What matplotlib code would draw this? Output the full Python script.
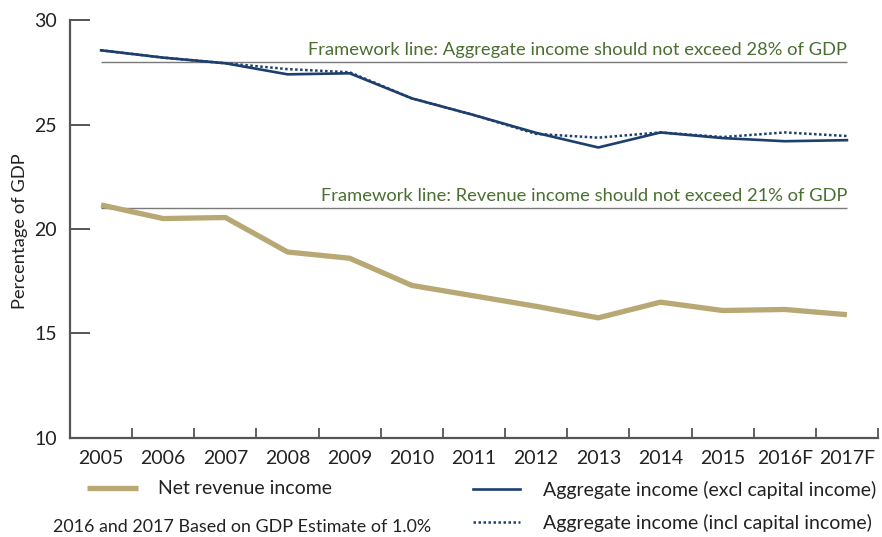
import matplotlib
matplotlib.use("Agg")
import matplotlib.pyplot as plt
import numpy as np

plt.rcParams['font.family'] = ['Lato', 'DejaVu Sans']

# ---- data ----
years = ['2005', '2006', '2007', '2008', '2009', '2010', '2011', '2012',
         '2013', '2014', '2015', '2016F', '2017F']
net_revenue = [21.15, 20.5, 20.55, 18.9, 18.6, 17.3, 16.8, 16.3,
               15.75, 16.5, 16.1, 16.15, 15.9]
agg_excl = [28.55, 28.2, 27.93, 27.4, 27.45, 26.25, 25.45, 24.6,
            23.9, 24.62, 24.35, 24.2, 24.25]
agg_incl = [28.55, 28.2, 27.93, 27.65, 27.5, 26.25, 25.45, 24.55,
            24.37, 24.62, 24.4, 24.62, 24.45]
agg_limit = 28
rev_limit = 21
agg_limit_text = 'Framework line: Aggregate income should not exceed 28% of GDP'
rev_limit_text = 'Framework line: Revenue income should not exceed 21% of GDP'
note_text = '2016 and 2017 Based on GDP Estimate of 1.0%'

# ---- style ----
TAN = '#b8a874'
NAVY = '#1c3f6e'
GREEN = '#4b6e31'
GREY_LINE = '#7a7a7a'
AXIS = '#555555'
TEXT = '#222222'

W, H = 882, 537
fig = plt.figure(figsize=(W / 100, H / 100), dpi=100)
ax = fig.add_axes([70 / W, 1 - 438 / H, 808 / W, 418 / H])

x = np.arange(len(years))

ax.hlines([agg_limit, rev_limit], x[0], x[-1], color=GREY_LINE, lw=1.0, zorder=1)

l_rev, = ax.plot(x, net_revenue, color=TAN, lw=3.8, solid_capstyle='butt',
                 solid_joinstyle='round', zorder=3, label='Net revenue income')
l_incl, = ax.plot(x, agg_incl, color=NAVY, lw=1.8, linestyle=(0, (1, 1)),
                  zorder=3, label='Aggregate income (incl capital income)')
l_excl, = ax.plot(x, agg_excl, color=NAVY, lw=1.9, solid_joinstyle='round',
                  zorder=4, label='Aggregate income (excl capital income)')

ax.annotate(agg_limit_text, xy=(x[-1], agg_limit), xytext=(0, 3),
            textcoords='offset points', ha='right', va='bottom',
            color=GREEN, fontsize=13.2)
ax.annotate(rev_limit_text, xy=(x[-1], rev_limit), xytext=(0, 3),
            textcoords='offset points', ha='right', va='bottom',
            color=GREEN, fontsize=13.2)

# axes
ax.set_xlim(-0.5, len(years) - 0.5)
ax.set_ylim(10, 30)
ax.set_yticks([10, 15, 20, 25, 30])
ax.set_xticks(np.arange(-0.5, len(years), 1.0))
ax.set_xticklabels([])
ax.set_xticks(x, minor=True)
ax.set_xticklabels(years, minor=True)
ax.tick_params(axis='x', which='major', direction='in', length=7.5, width=1.3,
               color=AXIS)
ax.tick_params(axis='x', which='minor', length=0, pad=9, labelsize=14,
               labelcolor=TEXT)
ax.tick_params(axis='y', direction='in', length=14.5, width=1.4, color=AXIS,
               pad=9.5, labelsize=14, labelcolor=TEXT)
for s in ['top', 'right']:
    ax.spines[s].set_visible(False)
for s in ['left', 'bottom']:
    ax.spines[s].set_color(AXIS)
    ax.spines[s].set_linewidth(1.6)

ax.set_ylabel('Percentage of GDP', fontsize=13.2, color=TEXT)
ax.yaxis.set_label_coords(-0.052, 0.495)

# legends below the plot
fig.legend(handles=[l_rev], loc='center left',
           bbox_to_anchor=(87 / W, 1 - 489 / H), frameon=False,
           fontsize=14, handlelength=2.6, handletextpad=1.05,
           borderpad=0, borderaxespad=0, labelcolor=TEXT)
fig.legend(handles=[l_excl, l_incl], loc='upper left',
           bbox_to_anchor=(473 / W, 1 - 481 / H), frameon=False,
           fontsize=14, handlelength=2.4, handletextpad=1.2,
           borderpad=0, borderaxespad=0, labelspacing=0.78, labelcolor=TEXT)

fig.text(53 / W, 1 - 527 / H, note_text, ha='left', va='center',
         fontsize=12.9, color=TEXT)

fig.savefig('out.png', dpi=100)
